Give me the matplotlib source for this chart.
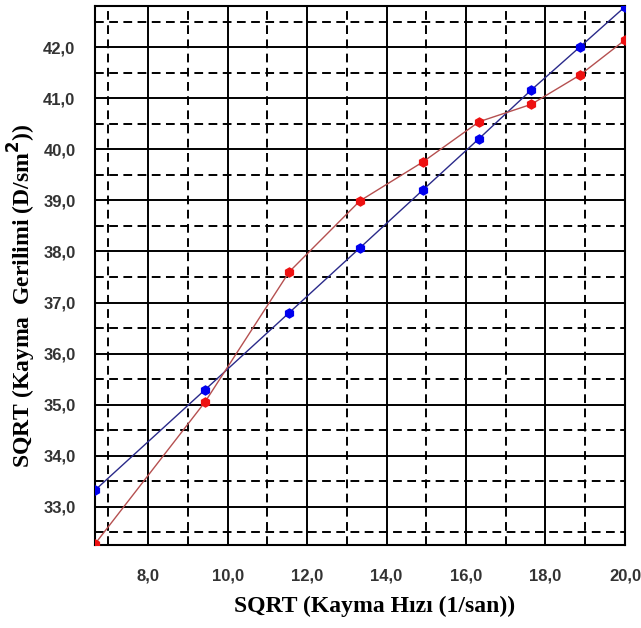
import matplotlib
matplotlib.use("Agg")
import matplotlib.pyplot as plt
from matplotlib.ticker import MultipleLocator, FuncFormatter

# sqrt of shear rate (x) and sqrt of shear stress (y) for the two samples
shear_rate_sqrt = [6.67, 9.43, 11.55, 13.33, 14.91, 16.33, 17.64, 18.86, 20.0]
stress_blue = [33.33, 35.29, 36.80, 38.07, 39.20, 40.21, 41.16, 42.00, 42.79]
stress_red = [32.28, 35.05, 37.60, 38.99, 39.75, 40.54, 40.88, 41.45, 42.14]

fig = plt.figure(figsize=(6.41, 6.28), dpi=100)
ax = fig.add_axes([0.148, 0.132, 0.827, 0.858])

ax.plot(shear_rate_sqrt, stress_blue, color="#2a2a8a", lw=1.0,
        marker="h", ms=6.5, mfc="#0000ee", mec="#0000ee", zorder=3)
ax.plot(shear_rate_sqrt, stress_red, color="#b55050", lw=1.0,
        marker="h", ms=6.5, mfc="#ee1111", mec="#ee1111", zorder=3)

ax.set_xlim(6.66, 20.0)
ax.set_ylim(32.25, 42.80)

ax.xaxis.set_major_locator(MultipleLocator(2))
ax.xaxis.set_minor_locator(MultipleLocator(1))
ax.yaxis.set_major_locator(MultipleLocator(1))
ax.yaxis.set_minor_locator(MultipleLocator(0.5))

fmt = FuncFormatter(lambda v, p: f"{v:.1f}".replace(".", ","))
ax.xaxis.set_major_formatter(fmt)
ax.yaxis.set_major_formatter(fmt)

ax.grid(which="major", color="black", lw=1.4, ls="-")
ax.grid(which="minor", color="black", lw=1.4, ls=(0, (4.5, 2.8)))
ax.set_axisbelow(True)

ax.tick_params(which="both", length=0)
ax.tick_params(axis="x", pad=17)
ax.tick_params(axis="y", pad=14)
for lab in ax.get_xticklabels() + ax.get_yticklabels():
    lab.set_fontfamily("Liberation Sans")
    lab.set_fontweight("bold")
    lab.set_fontsize(12)
    lab.set_color("#333333")

for sp in ax.spines.values():
    sp.set_linewidth(1.5)

ax.set_xlabel("SQRT (Kayma Hızı (1/san))", fontfamily="Liberation Serif",
              fontweight="bold", fontsize=17, va="center")
ax.set_ylabel(r"SQRT (Kayma  Gerilimi (D/sm$^\mathbf{2}$))", fontfamily="Liberation Serif",
              fontweight="bold", fontsize=17, va="center")
ax.xaxis.set_label_coords(0.527, -0.113)
ax.yaxis.set_label_coords(-0.137, 0.462)

fig.savefig("out.png", dpi=100)
